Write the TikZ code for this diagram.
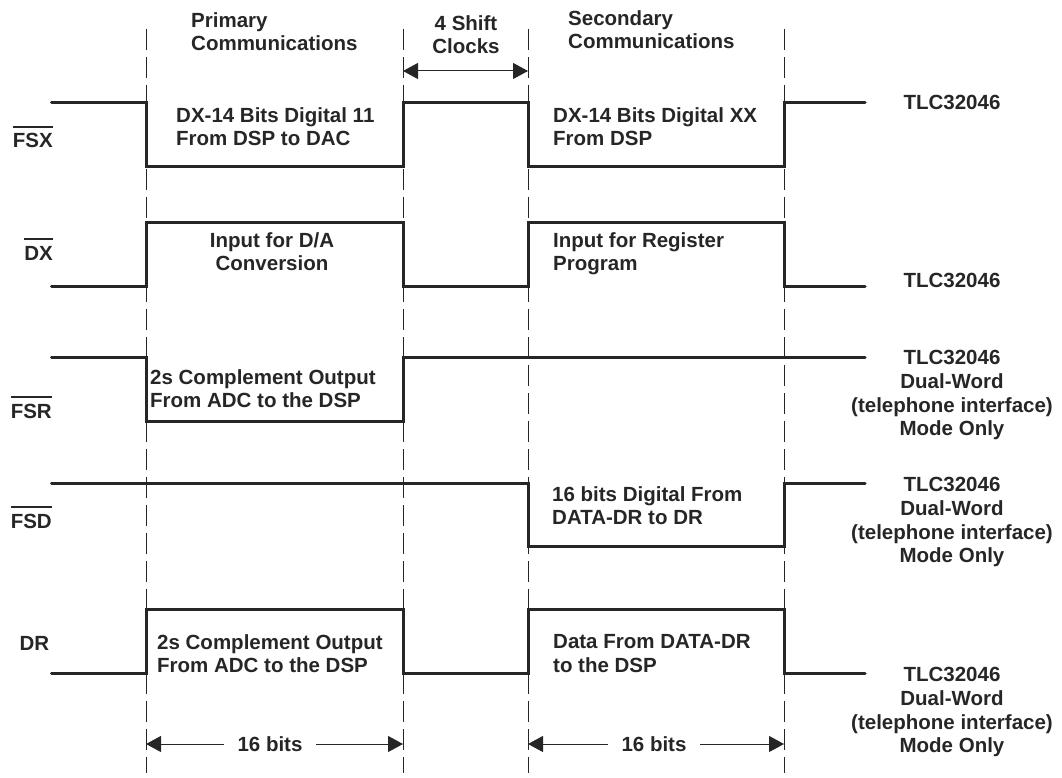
\documentclass[tikz,border=0pt]{standalone}
\usepackage{fontspec}
\setmainfont{Liberation Sans}
\usetikzlibrary{arrows.meta}
\newcommand\barred[1]{\vbox{\hrule height 2pt\kern 6pt\hbox{#1}}}
\begin{document}
\begin{tikzpicture}[x=1pt,y=-1pt,
  every node/.style={font=\fontsize{20.5}{23.8}\selectfont\bfseries, inner sep=0pt, text=black!85},
  sig/.style={line width=3pt, line cap=round, line join=miter, draw=black!85},
  guide/.style={line width=1pt, dash pattern=on 21pt off 7pt, draw=black!85},
  tip/.tip={Triangle[length=15pt,width=16pt]},
  dim/.style={line width=1pt, draw=black!85, -tip},
  txt/.style={align=left, anchor=north west},
  ctxt/.style={align=center, anchor=north},
  lbl/.style={anchor=base east}]
\useasboundingbox (0,0) rectangle (1062,778);
% guide lines
\coordinate (g1) at (146,29);
\coordinate (g2) at (403,29);
\coordinate (g3) at (528,29);
\coordinate (g4) at (784,29);
\foreach \g in {g1,g2,g3,g4} \draw[guide] (\g) -- ++(0,744);
% header texts
\node[txt] (prim) at (191,12) {Primary\\Communications};
\node[ctxt] (shift) at (466,15) {4 Shift\\Clocks};
\node[txt] (sec) at (568,10) {Secondary\\Communications};
\coordinate (sa) at (403,71);
\coordinate (sb) at (528,71);
\draw[dim, tip-tip] (sa) -- (sb);
% signal labels
\node[lbl] (fsx) at (53,148) {\barred{FSX}};
\node[lbl] (dx) at (53,260) {\barred{DX}};
\node[lbl] (fsr) at (52,418) {\barred{FSR}};
\node[lbl] (fsd) at (52,528) {\barred{FSD}};
\node[lbl] (dr) at (49.5,650) {DR};
% signals
\draw[sig] (51.5,103) -- (146,103) -- (146,167) -- (403,167) -- (403,103) -- (528,103) -- (528,167) -- (784,167) -- (784,103) -- (865,103);
\draw[sig] (51.5,286) -- (146,286) -- (146,222) -- (403,222) -- (403,286) -- (528,286) -- (528,222) -- (784,222) -- (784,286) -- (865,286);
\draw[sig] (51.5,357) -- (146,357) -- (146,421) -- (403,421) -- (403,357) -- (865,357);
\draw[sig] (51.5,483) -- (528,483) -- (528,546) -- (784,546) -- (784,483) -- (865,483);
\draw[sig] (51.5,673) -- (146,673) -- (146,609) -- (403,609) -- (403,673) -- (528,673) -- (528,609) -- (784,609) -- (784,673) -- (865,673);
% pulse texts
\node[txt] (t1) at (176,107) {DX-14 Bits Digital 11\\From DSP to DAC};
\node[txt] (t2) at (553,107) {DX-14 Bits Digital XX\\From DSP};
\node[ctxt] (t3) at (272,232) {Input for D/A\\Conversion};
\node[txt] (t4) at (553,232) {Input for Register\\Program};
\node[txt] (t5) at (150,369) {2s Complement Output\\From ADC to the DSP};
\node[txt] (t6) at (552,486) {16 bits Digital From\\DATA-DR to DR};
\node[txt] (t7) at (157,634) {2s Complement Output\\From ADC to the DSP};
\node[txt] (t8) at (553,634) {Data From DATA-DR\\to the DSP};
% right labels
\node[ctxt] (r1) at (952,95) {TLC32046};
\node[ctxt] (r2) at (952,273) {TLC32046};
\node[ctxt] (r3) at (952,350) {TLC32046\\Dual-Word\\(telephone interface)\\Mode Only};
\node[ctxt] (r4) at (952,477) {TLC32046\\Dual-Word\\(telephone interface)\\Mode Only};
\node[ctxt] (r5) at (952,667) {TLC32046\\Dual-Word\\(telephone interface)\\Mode Only};
% bottom dimensions
\coordinate (b1) at (146,744);
\coordinate (b2) at (403,744);
\coordinate (b3) at (528,744);
\coordinate (b4) at (784,744);
\node[inner xsep=13.5pt] (w1) at (270,744) {16 bits};
\node[inner xsep=13.5pt] (w2) at (654,744) {16 bits};
\draw[dim] (w1) -- (b1);
\draw[dim] (w1) -- (b2);
\draw[dim] (w2) -- (b3);
\draw[dim] (w2) -- (b4);
\end{tikzpicture}
\end{document}
